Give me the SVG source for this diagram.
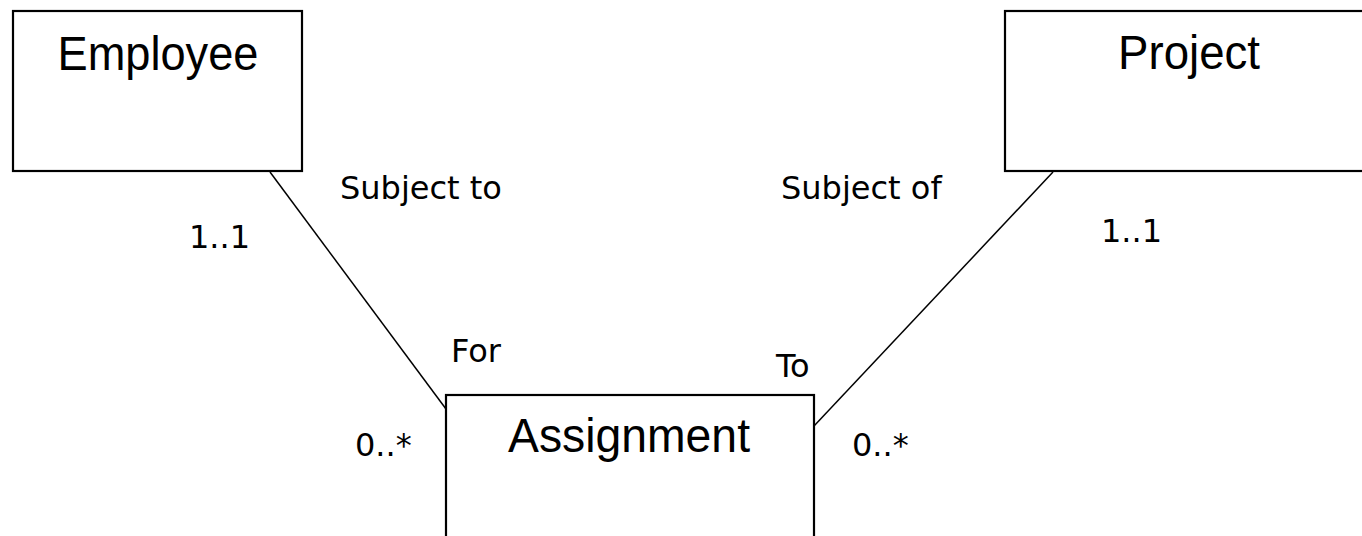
<svg xmlns="http://www.w3.org/2000/svg" width="1362" height="536" viewBox="0 0 1362 536">
<style>
.box{fill:#fff;stroke:#000;stroke-width:2.2}
.title{font-family:"Liberation Sans",Arial,sans-serif;font-size:48px;fill:#000;text-anchor:middle}
.lbl{font-family:"DejaVu Sans",sans-serif;font-size:32px;fill:#000}
.conn{stroke:#000;stroke-width:1.5;fill:none}
</style>
<rect width="1362" height="536" fill="#fff"/>
<g id="connectors">
<line class="conn" x1="270" y1="172" x2="446" y2="409"/>
<line class="conn" x1="1053" y1="172" x2="814" y2="426"/>
<text class="lbl" x="340" y="199">Subject to</text>
<text class="lbl" x="781" y="199">Subject of</text>
<text class="lbl" x="189" y="248">1..1</text>
<text class="lbl" x="1101" y="242">1..1</text>
<text class="lbl" x="355" y="456">0..*</text>
<text class="lbl" x="852" y="456">0..*</text>
<text class="lbl" x="451" y="362">For</text>
<text class="lbl" x="776" y="377">To</text>
</g>
<g id="employee">
<rect class="box" x="13" y="11" width="289" height="160"/>
<text class="title" x="158" y="70" textLength="201" lengthAdjust="spacingAndGlyphs">Employee</text>
</g>
<g id="project">
<rect class="box" x="1005" y="11" width="400" height="160"/>
<text class="title" x="1189" y="69" textLength="142" lengthAdjust="spacingAndGlyphs">Project</text>
</g>
<g id="assignment">
<rect class="box" x="446" y="395" width="368" height="200"/>
<text class="title" x="629" y="452" textLength="242" lengthAdjust="spacingAndGlyphs">Assignment</text>
</g>
</svg>
